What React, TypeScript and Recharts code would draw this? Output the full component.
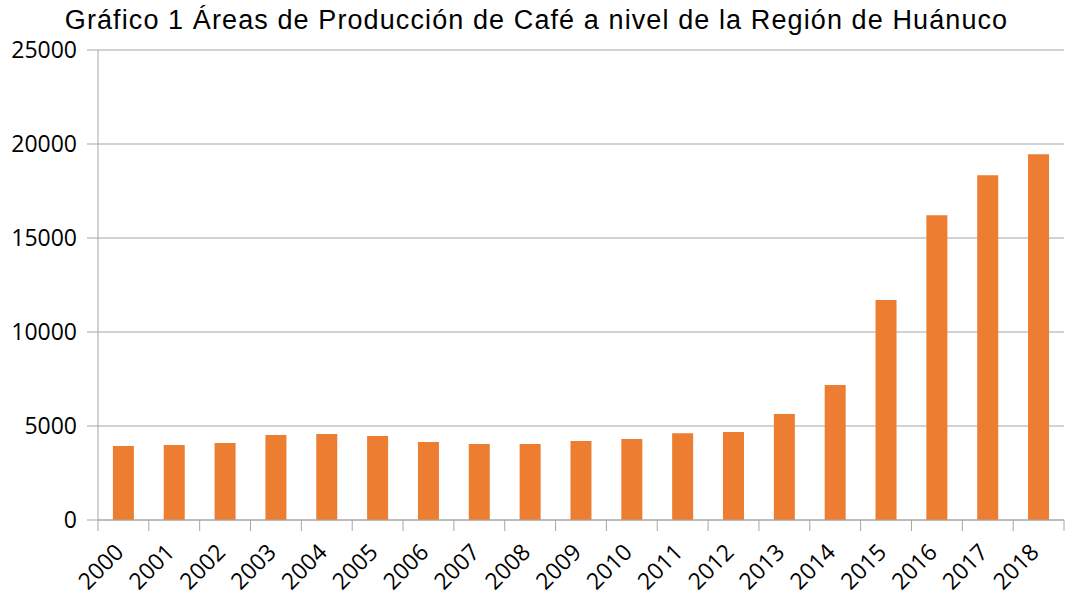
import React from 'react';
import { BarChart, Bar, XAxis, YAxis, CartesianGrid } from 'recharts';

const years = ['2000', '2001', '2002', '2003', '2004', '2005', '2006', '2007', '2008', '2009', '2010', '2011', '2012', '2013', '2014', '2015', '2016', '2017', '2018'];
const areas = [3930, 3990, 4090, 4520, 4570, 4470, 4150, 4040, 4040, 4200, 4310, 4620, 4680, 5640, 7180, 11700, 16210, 18340, 19460];
const yTicks = [0, 5000, 10000, 15000, 20000, 25000];
const titleText = 'Gráfico 1 Áreas de Producción de Café a nivel de la Región de Huánuco';

const data = years.map((y, i) => ({ year: y, area: areas[i] }));

const W = 1065;
const H = 594;
const Y_AXIS_W = 98;
const MARGIN_RIGHT = 1;
const PLOT_W = W - Y_AXIS_W - MARGIN_RIGHT;
const HALF_BAND = PLOT_W / years.length / 2;
const GRAY = '#A6A6A6';
const LABEL_FONT = '"Open Sans", "Noto Sans", sans-serif';

const XTick = (props: any) => {
  const { x, y, payload, index } = props;
  const isLast = index === years.length - 1;
  const ax = x - 4;
  const ay = y + 28;
  return (
    <g>
      <line x1={x - HALF_BAND} y1={y} x2={x - HALF_BAND} y2={y + 11} stroke={GRAY} strokeWidth={1} />
      {isLast && <line x1={x + HALF_BAND} y1={y} x2={x + HALF_BAND} y2={y + 11} stroke={GRAY} strokeWidth={1} />}
      <text
        x={ax}
        y={ay}
        dy="0.35em"
        textAnchor="end"
        transform={`rotate(-45, ${ax}, ${ay})`}
        fill="#000"
        fontSize={23}
        fontFamily={LABEL_FONT}
      >
        {payload.value}
      </text>
    </g>
  );
};

export default function App() {
  return (
    <div style={{ position: 'absolute', left: 0, top: 0, width: W, height: H, background: '#fff' }}>
      <div
        style={{
          position: 'absolute',
          left: 4,
          top: 7,
          width: W,
          textAlign: 'center',
          fontFamily: '"Liberation Sans", Arial, sans-serif',
          fontSize: 27,
          letterSpacing: '1.1px',
          lineHeight: '27px',
          color: '#000',
          whiteSpace: 'nowrap',
        }}
      >
        {titleText}
      </div>
      <BarChart
        width={W}
        height={H}
        data={data}
        margin={{ top: 50, right: MARGIN_RIGHT, bottom: 0, left: 0 }}
        barCategoryGap="29.3%"
      >
        <CartesianGrid horizontal={true} vertical={false} stroke={GRAY} strokeWidth={1} />
        <XAxis
          dataKey="year"
          interval={0}
          height={74}
          axisLine={{ stroke: GRAY, strokeWidth: 1 }}
          tickLine={false}
          tickSize={0}
          tickMargin={0}
          tick={<XTick />}
        />
        <YAxis
          domain={[0, 25000]}
          ticks={yTicks}
          width={Y_AXIS_W}
          axisLine={{ stroke: GRAY, strokeWidth: 1 }}
          tickLine={{ stroke: GRAY, strokeWidth: 1 }}
          tickSize={11}
          tickMargin={10}
          tick={{ fill: '#000', fontSize: 23, fontFamily: LABEL_FONT }}
        />
        <Bar dataKey="area" fill="#ED7D31" isAnimationActive={false} />
      </BarChart>
    </div>
  );
}
